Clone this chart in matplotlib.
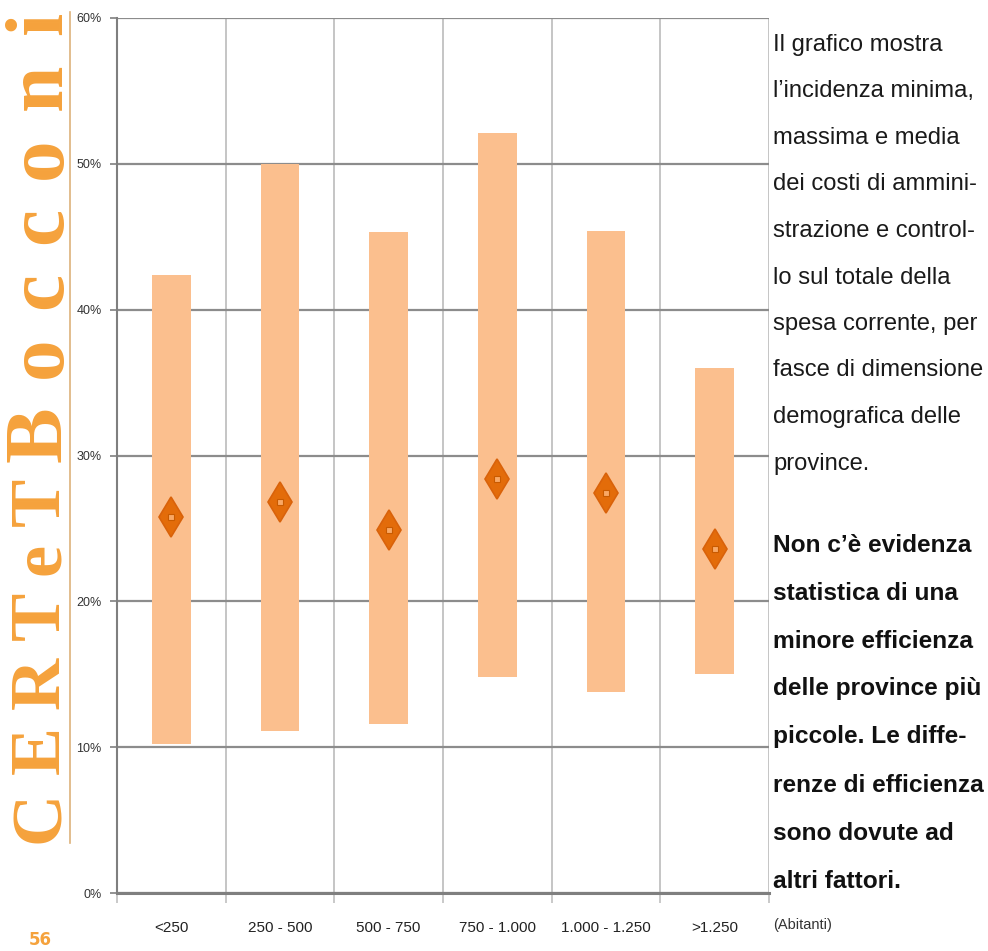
import matplotlib
matplotlib.use("Agg")
import matplotlib.pyplot as plt
import numpy as np
from matplotlib import font_manager
from matplotlib.lines import Line2D

# Incidenza dei costi di amministrazione e controllo sulla spesa corrente (%)
classes = ["<250", "250 - 500", "500 - 750", "750 - 1.000", "1.000 - 1.250", ">1.250"]
minimum = [10.2, 11.1, 11.6, 14.8, 13.8, 15.0]
maximum = [42.4, 50.0, 45.3, 52.1, 45.4, 36.0]
mean = [25.8, 26.8, 24.9, 28.4, 27.4, 23.6]
y_ticks = [0, 10, 20, 30, 40, 50, 60]

intro_lines = [
    "Il grafico mostra",
    "l\u2019incidenza minima,",
    "massima e media",
    "dei costi di ammini-",
    "strazione e control-",
    "lo sul totale della",
    "spesa corrente, per",
    "fasce di dimensione",
    "demografica delle",
    "province.",
]
note_lines = [
    "Non c\u2019\u00e8 evidenza",
    "statistica di una",
    "minore efficienza",
    "delle province pi\u00f9",
    "piccole. Le diffe-",
    "renze di efficienza",
    "sono dovute ad",
    "altri fattori.",
]

W, H = 988, 951
ORANGE = "#F5A23C"


def pick_font(*names):
    for name in names:
        try:
            font_manager.findfont(name, fallback_to_default=False)
            return name
        except ValueError:
            pass
    return "DejaVu Sans"


narrow = pick_font("Liberation Sans Narrow", "DejaVu Sans Condensed", "Liberation Sans")


def px(x, y):
    """pixel position (from top-left) -> figure fraction"""
    return x / W, 1 - y / H


def fit_size(fig, lines, width_px, **kw):
    # font size at which the widest of `lines` is width_px wide
    renderer = fig.canvas.get_renderer()
    widest = 0
    for line in lines:
        t = fig.text(0, 0, line, fontsize=10, **kw)
        widest = max(widest, t.get_window_extent(renderer).width)
        t.remove()
    return 10 * width_px / widest


def spaced_vertical(fig, word, x_base, y_start, y_end, size):
    # letters reading bottom to top, spread evenly between y_start and y_end
    renderer = fig.canvas.get_renderer()
    letters = [fig.text(0, 0, ch, rotation=90, rotation_mode="anchor",
                        ha="left", va="baseline", fontsize=size,
                        family="Liberation Serif", weight="bold", color=ORANGE)
               for ch in word]
    heights = [t.get_window_extent(renderer).height for t in letters]
    gap = ((y_start - y_end) - sum(heights)) / (len(word) - 1)
    y = y_start
    for t, h in zip(letters, heights):
        t.set_position(px(x_base, y))
        y -= h + gap


fig = plt.figure(figsize=(W / 100, H / 100), dpi=100)
fig.patch.set_facecolor("white")

ax = fig.add_axes([117 / W, 58 / H, 652 / W, 875 / H])
x = np.arange(len(classes)) + 0.5

ax.bar(x, np.subtract(maximum, minimum), bottom=minimum, width=0.355,
       color="#FBBF8E", zorder=2)
ax.plot(x, mean, ls="none", marker="d", ms=20, mfc="#E36C0A", mec="#D9620A",
        mew=1.2, zorder=3)
ax.plot(x, mean, ls="none", marker="s", ms=4.5, mfc="#F9A865", mec="#C85A00",
        mew=0.8, zorder=4)

ax.set_xlim(0, len(classes))
ax.set_ylim(0, 60)
ax.set_axisbelow(True)

ax.set_yticks(y_ticks)
ax.set_yticklabels([f"{v}%" for v in y_ticks], fontsize=9, color="#333333",
                   family=narrow)
ax.tick_params(axis="y", length=5, width=1.2, color="#7f7f7f", pad=6)
ax.yaxis.grid(True, color="#8c8c8c", lw=1.6)

ax.set_xticks(x)
ax.set_xticklabels(classes, fontsize=11, color="#222222", family=narrow)
ax.tick_params(axis="x", which="major", length=0, pad=20)
ax.set_xticks(np.arange(len(classes) + 1), minor=True)
ax.tick_params(axis="x", which="minor", length=7, width=1.2, color="#c0c0c0")
ax.xaxis.grid(True, which="minor", color="#c0c0c0", lw=1.3)

for side in ("top", "right"):
    ax.spines[side].set_visible(False)
ax.spines["left"].set_color("#7f7f7f")
ax.spines["left"].set_linewidth(1.5)
ax.spines["bottom"].set_color("#7f7f7f")
ax.spines["bottom"].set_linewidth(2.2)

fig.text(*px(773, 925), "(Abitanti)", fontsize=10.5, color="#333333",
         family=narrow, ha="left", va="center")

# commentary on the right, sized to the column width
intro_size = fit_size(fig, intro_lines, 211, family=narrow)
note_size = fit_size(fig, note_lines, 211, family=narrow, weight="bold")
for i, line in enumerate(intro_lines):
    fig.text(*px(773, 45 + 46.5 * i), line, fontsize=intro_size,
             color="#1a1a1a", family=narrow, ha="left", va="center")
for i, line in enumerate(note_lines):
    fig.text(*px(773, 545 + 48 * i), line, fontsize=note_size,
             color="#111111", family=narrow, weight="bold", ha="left",
             va="center")

# brand strip on the left
spaced_vertical(fig, "CERTeT", 59, 843, 478, 52)
spaced_vertical(fig, "Bocconi", 61, 462, 12, 60)
fig.add_artist(Line2D([70 / W, 70 / W], [1 - 12 / H, 1 - 843 / H],
                      color="#DDB27A", lw=1.2))
fig.text(*px(40, 940), "56", fontsize=12, color=ORANGE, weight="bold",
         ha="center", va="center")

fig.savefig("out.png", dpi=100)
